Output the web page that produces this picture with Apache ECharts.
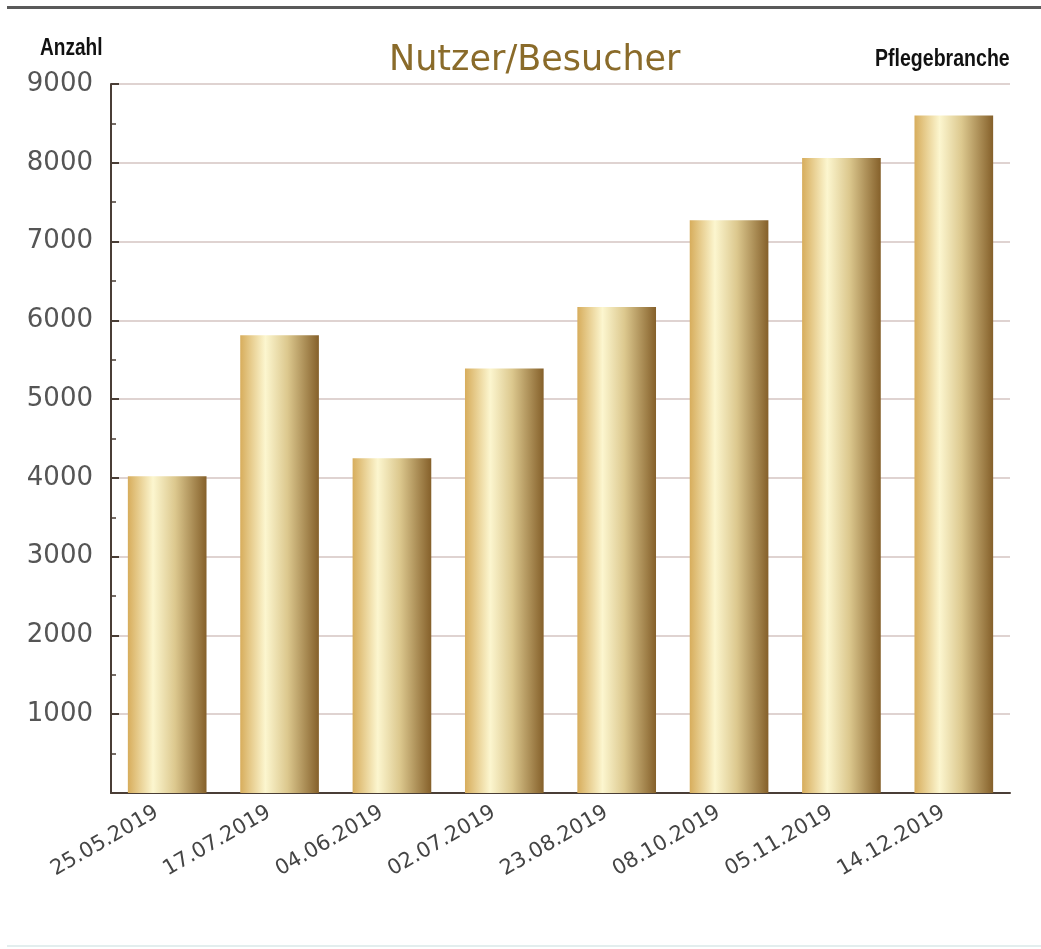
<!DOCTYPE html>
<html>
<head>
<meta charset="utf-8">
<title>Nutzer/Besucher</title>
<script src="https://cdn.jsdelivr.net/npm/echarts@6/dist/echarts.min.js"></script>
<style>
  html, body { margin: 0; padding: 0; background: #ffffff; }
  #chart { width: 1041px; height: 949px; }
</style>
</head>
<body>
<div id="chart"></div>
<script>
// 数据
const dates = ['25.05.2019', '17.07.2019', '04.06.2019', '02.07.2019', '23.08.2019', '08.10.2019', '05.11.2019', '14.12.2019']
const visitors = [4020, 5810, 4250, 5390, 6170, 7270, 8060, 8600]
const yTicks = [1000, 2000, 3000, 4000, 5000, 6000, 7000, 8000, 9000]

const chart = echarts.init(document.getElementById('chart'))

// 金色柱子渐变
const goldGradient = new echarts.graphic.LinearGradient(0, 0, 1, 0, [
  { offset: 0, color: '#d7ad5c' },
  { offset: 0.32, color: '#fcf6cf' },
  { offset: 0.6, color: '#dcc88e' },
  { offset: 1, color: '#85602a' }
])

const cornerFont = 'bold 23px "Liberation Sans", Arial, sans-serif'

const option = {
  backgroundColor: '#ffffff',
  animation: false,
  title: {
    text: 'Nutzer/Besucher',
    left: 384,
    top: 38,
    textStyle: {
      fontFamily: 'DejaVu Sans',
      fontSize: 35,
      fontWeight: 'normal',
      color: '#8a6b2a'
    }
  },
  graphic: [
    { type: 'rect', shape: { x: 7, y: 6, width: 1034, height: 3 }, style: { fill: '#5a5a5a' } },
    { type: 'rect', shape: { x: 7, y: 945, width: 1034, height: 2 }, style: { fill: '#e3eeee' } },
    // 左右角标 (压窄字体)
    { type: 'text', x: 40, y: 37, scaleX: 0.83, style: { text: 'Anzahl', font: cornerFont, fill: '#111' } },
    { type: 'text', x: 875, y: 48, scaleX: 0.85, style: { text: 'Pflegebranche', font: cornerFont, fill: '#111' } }
  ],
  grid: {
    left: 111,
    right: 31,
    top: 84,
    bottom: 156
  },
  xAxis: {
    type: 'category',
    data: dates,
    axisLine: { lineStyle: { color: '#4a3e36', width: 2 } },
    axisTick: { inside: true, length: 7, lineStyle: { color: '#4a3e36', width: 2 } },
    axisLabel: {
      rotate: 30,
      margin: 12,
      padding: [0, 12, 0, 0],
      fontFamily: 'DejaVu Sans',
      fontSize: 21,
      color: '#444'
    }
  },
  yAxis: {
    type: 'value',
    min: 0,
    max: yTicks[yTicks.length - 1],
    interval: 1000,
    axisLine: { show: true, lineStyle: { color: '#4a3e36', width: 2 } },
    axisTick: { show: true, inside: true, length: 8, lineStyle: { color: '#4a3e36', width: 2 } },
    minorTick: { show: true, splitNumber: 2, length: 5, lineStyle: { color: '#4a3e36', width: 1.5 } },
    splitLine: { lineStyle: { color: '#dfd3d1', width: 2 } },
    axisLabel: {
      margin: 18,
      fontFamily: 'DejaVu Sans',
      fontSize: 26,
      color: '#555',
      formatter: (v) => yTicks.includes(v) ? String(v) : ''
    }
  },
  series: [{
    name: 'Nutzer/Besucher',
    type: 'bar',
    data: visitors,
    barWidth: '70%',
    itemStyle: { color: goldGradient }
  }]
}

chart.setOption(option)
</script>
</body>
</html>
